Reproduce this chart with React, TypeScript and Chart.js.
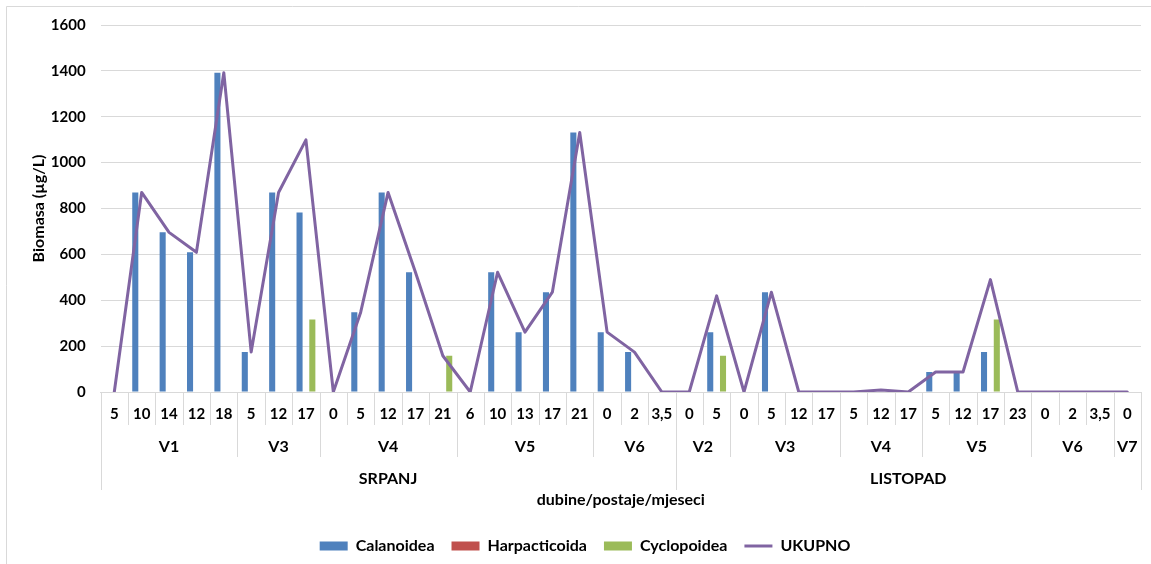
import React, { useEffect, useRef } from 'react';
import { Chart, registerables } from 'chart.js';

Chart.register(...registerables);

// ---- data ----
const depthLabels = [
  '5', '10', '14', '12', '18',
  '5', '12', '17',
  '0', '5', '12', '17', '21',
  '6', '10', '13', '17', '21',
  '0', '2', '3,5',
  '0', '5',
  '0', '5', '12', '17',
  '5', '12', '17',
  '5', '12', '17', '23',
  '0', '2', '3,5',
  '0',
];

const stationNames = ['V1', 'V3', 'V4', 'V5', 'V6', 'V2', 'V3', 'V4', 'V5', 'V6', 'V7'];
const stationCounts = [5, 3, 5, 5, 3, 2, 4, 3, 4, 3, 1];

const monthNames = ['SRPANJ', 'LISTOPAD'];
const monthCounts = [21, 17];

const calanoidea = [
  0, 870, 696, 609, 1392,
  174, 870, 783,
  0, 348, 870, 522, 0,
  0, 522, 261, 435, 1131,
  261, 174, 0,
  0, 261,
  0, 435, 0, 0,
  0, 0, 0,
  87, 87, 174, 0,
  0, 0, 0,
  0,
];

const harpacticoida = [
  0, 0, 0, 0, 0,
  0, 0, 0,
  0, 0, 0, 0, 0,
  0, 0, 0, 0, 0,
  0, 0, 0,
  0, 0,
  0, 0, 0, 0,
  0, 0, 0,
  0, 0, 0, 0,
  0, 0, 0,
  0,
];

const cyclopoidea = [
  0, 0, 0, 0, 0,
  0, 0, 316,
  0, 0, 0, 0, 158,
  0, 0, 0, 0, 0,
  0, 0, 0,
  0, 158,
  0, 0, 0, 0,
  0, 0, 0,
  0, 0, 316, 0,
  0, 0, 0,
  0,
];

const ukupno = [
  0, 870, 696, 609, 1392,
  174, 870, 1099,
  0, 348, 870, 522, 158,
  0, 522, 261, 435, 1131,
  261, 174, 0,
  0, 419,
  0, 435, 0, 0,
  0, 9, 0,
  87, 87, 490, 0,
  0, 0, 0,
  0,
];

const yMax = 1600;
const yStep = 200;

const FONT_FAMILY = 'Lato, "Open Sans", sans-serif';
const GRID = '#d9d9d9';
const TEXT = '#000000';

const multiLevelAxis = {
  id: 'multiLevelAxis',
  beforeDraw(chart: any) {
    const { ctx, width, height } = chart;
    ctx.save();
    ctx.fillStyle = '#ffffff';
    ctx.fillRect(0, 0, width, height);
    ctx.strokeStyle = GRID;
    ctx.lineWidth = 1;
    ctx.beginPath();
    ctx.moveTo(6.5, height);
    ctx.lineTo(6.5, 6.5);
    ctx.lineTo(width, 6.5);
    ctx.stroke();
    ctx.restore();
  },
  afterDraw(chart: any) {
    const xs = chart.scales.x;
    const { ctx } = chart;
    const top = xs.top;
    const half = (xs.getPixelForValue(1) - xs.getPixelForValue(0)) / 2;
    const edge = (i: number) => xs.getPixelForValue(i) - half;
    const n = depthLabels.length;

    const stationEdges = new Set<number>();
    let acc = 0;
    stationEdges.add(0);
    stationCounts.forEach((c) => { acc += c; stationEdges.add(acc); });
    const monthEdges = new Set<number>();
    acc = 0;
    monthEdges.add(0);
    monthCounts.forEach((c) => { acc += c; monthEdges.add(acc); });

    ctx.save();
    ctx.strokeStyle = GRID;
    ctx.lineWidth = 1;
    for (let i = 0; i <= n; i++) {
      const len = monthEdges.has(i) ? 98 : stationEdges.has(i) ? 65 : 33;
      const x = Math.round(edge(i)) + 0.5;
      ctx.beginPath();
      ctx.moveTo(x, top);
      ctx.lineTo(x, top + len);
      ctx.stroke();
    }

    ctx.fillStyle = TEXT;
    ctx.font = `bold 16px ${FONT_FAMILY}`;
    ctx.textAlign = 'center';
    ctx.textBaseline = 'middle';
    acc = 0;
    stationNames.forEach((name, k) => {
      const a = edge(acc);
      acc += stationCounts[k];
      const b = edge(acc);
      ctx.fillText(name, (a + b) / 2, top + 55);
    });
    acc = 0;
    monthNames.forEach((name, k) => {
      const a = edge(acc);
      acc += monthCounts[k];
      const b = edge(acc);
      ctx.fillText(name, (a + b) / 2, top + 87);
    });
    ctx.fillText('dubine/postaje/mjeseci', (edge(0) + edge(n)) / 2, top + 108);
    ctx.restore();
  },
};

export default function App() {
  const canvasRef = useRef<HTMLCanvasElement | null>(null);

  useEffect(() => {
    if (!canvasRef.current) return;
    const font = { family: FONT_FAMILY, size: 16, weight: 'bold' as const };
    const tickFont = { family: FONT_FAMILY, size: 15, weight: 'bold' as const };
    const barCommon = {
      categoryPercentage: 0.7,
      barPercentage: 0.95,
      borderWidth: 0,
      pointStyle: 'rect',
      order: 1,
    };
    const chart = new Chart(canvasRef.current, {
      type: 'bar',
      data: {
        labels: depthLabels,
        datasets: [
          { ...barCommon, label: 'Calanoidea', data: calanoidea, backgroundColor: '#4F81BD' } as any,
          { ...barCommon, label: 'Harpacticoida', data: harpacticoida, backgroundColor: '#C0504D' } as any,
          { ...barCommon, label: 'Cyclopoidea', data: cyclopoidea, backgroundColor: '#9BBB59' } as any,
          {
            type: 'line',
            label: 'UKUPNO',
            data: ukupno,
            borderColor: '#8064A2',
            backgroundColor: '#8064A2',
            borderWidth: 3,
            pointRadius: 0,
            pointHoverRadius: 0,
            pointStyle: 'line',
            tension: 0,
            borderJoinStyle: 'round',
            borderCapStyle: 'round',
            order: 0,
          } as any,
        ],
      },
      options: {
        animation: false,
        responsive: true,
        maintainAspectRatio: false,
        layout: { padding: { left: 29, right: 10, top: 25, bottom: 0 } },
        plugins: {
          tooltip: { enabled: false },
          title: { display: false },
          legend: {
            position: 'bottom',
            labels: {
              usePointStyle: true,
              pointStyleWidth: 28,
              boxHeight: 9,
              padding: 17,
              color: TEXT,
              font,
              sort: (a: any, b: any) => a.datasetIndex - b.datasetIndex,
            },
          },
        },
        scales: {
          x: {
            offset: true,
            grid: { display: false },
            border: { display: true, color: GRID },
            ticks: {
              autoSkip: false,
              maxRotation: 0,
              minRotation: 0,
              padding: 5,
              color: TEXT,
              font: tickFont,
            },
            afterFit: (scale: any) => { scale.height = 129; },
          },
          y: {
            min: 0,
            max: yMax,
            ticks: {
              stepSize: yStep,
              padding: 15,
              color: TEXT,
              font: tickFont,
              callback: (v: any) => String(v),
            },
            grid: { color: GRID, drawTicks: false, lineWidth: 1 },
            border: { display: false },
            title: {
              display: true,
              text: 'Biomasa (µg/L)',
              color: TEXT,
              font,
              padding: { top: 0, bottom: 0 },
            },
            afterFit: (scale: any) => { scale.width = 71.6; },
          },
        },
      } as any,
      plugins: [multiLevelAxis],
    });
    return () => chart.destroy();
  }, []);

  return (
    <div style={{ position: 'absolute', left: 0, top: 0, width: 1151, height: 564 }}>
      <canvas ref={canvasRef} />
    </div>
  );
}
